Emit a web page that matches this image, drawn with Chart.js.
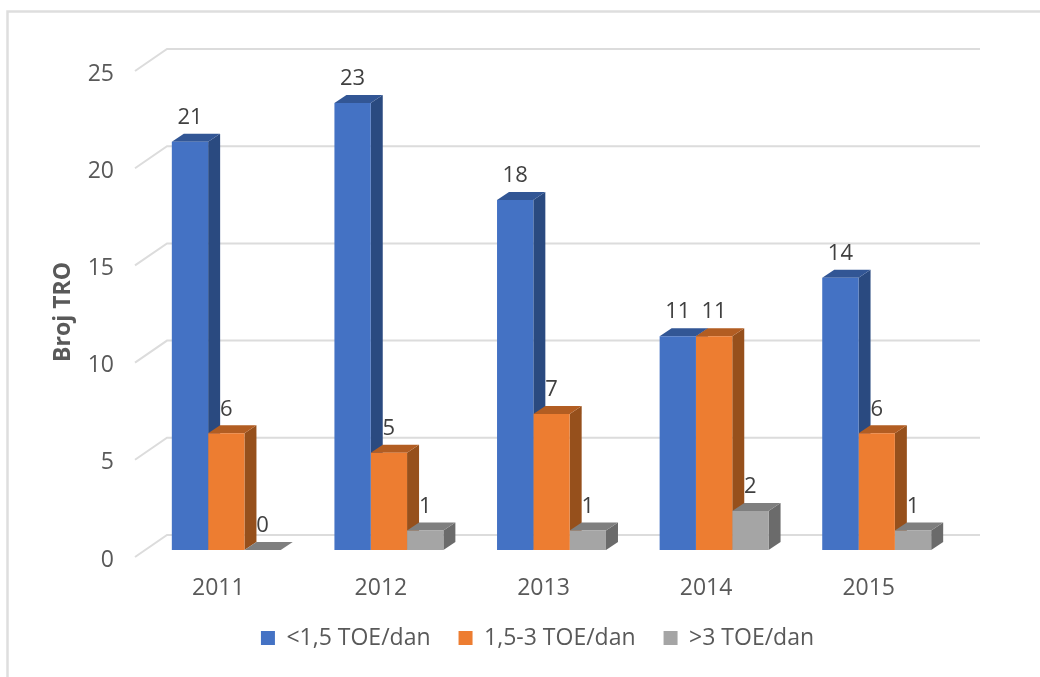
<!DOCTYPE html>
<html>
<head>
<meta charset="utf-8">
<style>
  html, body { margin: 0; padding: 0; background: #fff; }
  #wrap { position: relative; width: 1040px; height: 677px; overflow: hidden; }
</style>
<script src="https://cdn.jsdelivr.net/npm/chart.js@4/dist/chart.umd.min.js"></script>
</head>
<body>
<div id="wrap"><canvas id="chart" width="1040" height="677"></canvas></div>
<script>
const YEARS = ['2011', '2012', '2013', '2014', '2015'];
const LOW = [21, 23, 18, 11, 14];
const MID = [6, 5, 7, 11, 6];
const HIGH = [0, 1, 1, 2, 1];
const Y_TITLE = 'Broj TRO';

const FONT = '"Open Sans", "Noto Sans", sans-serif';
const TEXT_COLOR = '#595959';
const GRID_COLOR = '#dcdcdc';
const DEPTH_X = 12;
const DEPTH_Y = 8;
const SHADES = [
  { top: '#325695', side: '#2a4a80' },
  { top: '#b25d22', side: '#96501c' },
  { top: '#7f7f7f', side: '#6b6b6b' },
];

function face(ctx, points, color) {
  ctx.fillStyle = color;
  ctx.beginPath();
  points.forEach(([x, y], i) => (i ? ctx.lineTo(x, y) : ctx.moveTo(x, y)));
  ctx.closePath();
  ctx.fill();
}

const threeD = {
  id: 'threeD',
  afterLayout(chart) {
    // legend sits off-centre in the original
    const legend = chart.legend;
    const dx = 537.5 - (legend.left + legend.right) / 2;
    const dy = 629 - (legend.top + legend.bottom) / 2;
    legend.left += dx;
    legend.right += dx;
    legend.top += dy;
    legend.bottom += dy;
  },
  beforeDatasetsDraw(chart) {
    const { ctx } = chart;
    const yScale = chart.scales.y;

    ctx.save();
    // frame
    ctx.strokeStyle = '#dedede';
    ctx.lineWidth = 2.5;
    ctx.beginPath();
    ctx.moveTo(7.5, 677);
    ctx.lineTo(7.5, 11.5);
    ctx.lineTo(1040, 11.5);
    ctx.stroke();

    // gridlines on the back wall and side wall
    ctx.strokeStyle = GRID_COLOR;
    ctx.lineWidth = 2;
    yScale.ticks.forEach((tick) => {
      const y = yScale.getPixelForValue(tick.value);
      ctx.beginPath();
      ctx.moveTo(135, y + 7);
      ctx.lineTo(167, y - 15);
      ctx.lineTo(980, y - 15);
      ctx.stroke();
    });

    // sides and tops of the columns
    chart.data.labels.forEach((label, index) => {
      chart.data.datasets.forEach((dataset, datasetIndex) => {
        const bar = chart.getDatasetMeta(datasetIndex).data[index];
        const left = bar.x - bar.width / 2;
        const right = bar.x + bar.width / 2;
        const top = bar.y;
        const bottom = bar.base;
        if (bottom > top) {
          face(ctx, [
            [right, top], [right + DEPTH_X, top - DEPTH_Y],
            [right + DEPTH_X, bottom - DEPTH_Y], [right, bottom],
          ], SHADES[datasetIndex].side);
        }
        face(ctx, [
          [left, top], [left + DEPTH_X, top - DEPTH_Y],
          [right + DEPTH_X, top - DEPTH_Y], [right, top],
        ], SHADES[datasetIndex].top);
      });
    });
    ctx.restore();
  },
  afterDatasetsDraw(chart) {
    const { ctx } = chart;
    ctx.save();
    ctx.fillStyle = '#404040';
    ctx.font = `22px ${FONT}`;
    ctx.textAlign = 'center';
    ctx.textBaseline = 'middle';
    chart.data.datasets.forEach((dataset, datasetIndex) => {
      chart.getDatasetMeta(datasetIndex).data.forEach((bar, index) => {
        ctx.fillText(String(dataset.data[index]), bar.x, bar.y - 24);
      });
    });

    // axis title, a little below the middle of the scale
    ctx.fillStyle = TEXT_COLOR;
    ctx.font = `bold 23px ${FONT}`;
    ctx.translate(63, 312);
    ctx.rotate(-Math.PI / 2);
    ctx.fillText(Y_TITLE, 0, 0);
    ctx.restore();
  },
};

new Chart(document.getElementById('chart'), {
  type: 'bar',
  data: {
    labels: YEARS,
    datasets: [
      { label: '<1,5 TOE/dan', data: LOW, backgroundColor: '#4472c4' },
      { label: '1,5-3 TOE/dan', data: MID, backgroundColor: '#ed7d31' },
      { label: '>3 TOE/dan', data: HIGH, backgroundColor: '#a5a5a5' },
    ],
  },
  options: {
    responsive: false,
    animation: false,
    devicePixelRatio: 1,
    categoryPercentage: 0.67,
    barPercentage: 1,
    layout: { padding: { top: 64, right: 82, bottom: 0, left: 0 } },
    scales: {
      x: {
        grid: { display: false, drawTicks: false },
        border: { display: false },
        ticks: {
          color: TEXT_COLOR,
          font: { family: FONT, size: 23 },
          padding: 25,
          labelOffset: -8,
          maxRotation: 0,
        },
        afterFit(scale) { scale.height = 66; },
      },
      y: {
        min: 0,
        max: 25,
        grid: { display: false, drawTicks: false },
        border: { display: false },
        ticks: {
          stepSize: 5,
          color: TEXT_COLOR,
          font: { family: FONT, size: 23 },
          padding: 31,
          labelOffset: 10,
        },
        afterFit(scale) { scale.width = 145; },
      },
    },
    plugins: {
      legend: {
        position: 'bottom',
        labels: {
          color: TEXT_COLOR,
          font: { family: FONT, size: 23 },
          boxWidth: 14,
          boxHeight: 14,
          padding: 28,
        },
      },
      tooltip: { enabled: false },
    },
  },
  plugins: [threeD],
});
</script>
</body>
</html>
